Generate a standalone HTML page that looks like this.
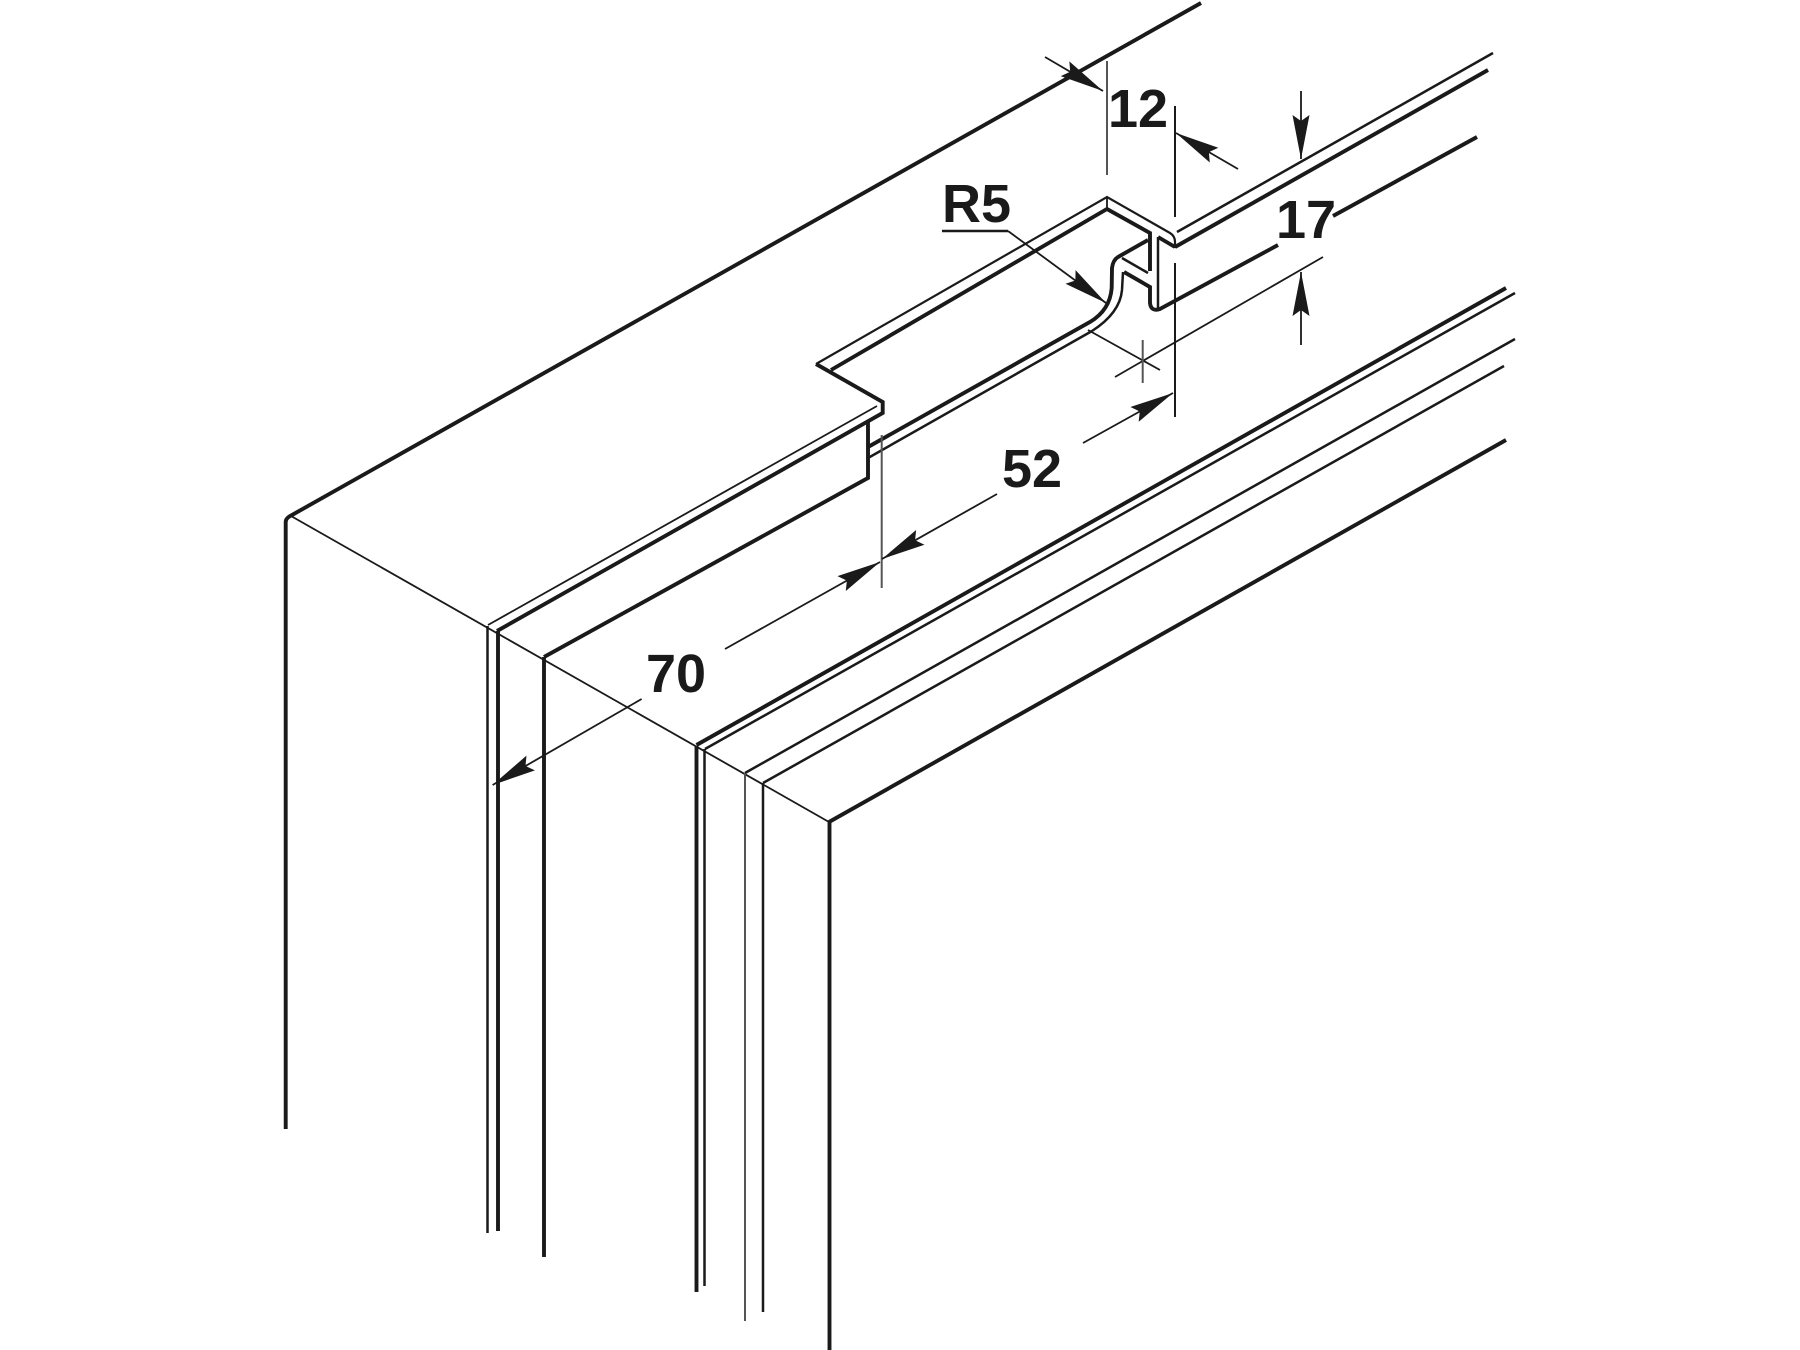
<!DOCTYPE html>
<html><head><meta charset="utf-8"><style>
html,body{margin:0;padding:0;background:#fff}
svg{display:block}
text{font-family:"Liberation Sans",sans-serif;font-weight:700;font-size:54px;fill:#1a1a1a}
.k{stroke:#1a1a1a;fill:none;stroke-width:3.9}
.m{stroke:#1a1a1a;fill:none;stroke-width:2.5}
.t{stroke:#1a1a1a;fill:none;stroke-width:1.8}
.g{stroke:#555;fill:none;stroke-width:2}
</style></head><body>
<svg width="1800" height="1350" viewBox="0 0 1800 1350" xmlns="http://www.w3.org/2000/svg">
<defs><marker id="a" markerUnits="userSpaceOnUse" markerWidth="60" markerHeight="24" refX="50" refY="12" orient="auto"><path d="M50,12 L6,3.5 L12,12 L6,20.5 Z" fill="#1a1a1a"/></marker></defs>
<!-- outer -->
<path class="k" d="M285.7,1129 V522 Q285.7,518 292,515 L1201,3"/>
<path class="t" d="M291,516 L829,822"/>
<!-- verticals -->
<path class="m" d="M487.5,626 V1233"/>
<path class="k" d="M498,631 V1231"/>
<path class="k" d="M544,657 V1257"/>
<path class="k" d="M696.5,746 V1292"/>
<path class="m" d="M704.5,749 V1286"/>
<path class="g" d="M745,773 V1321"/>
<path class="m" d="M763,783 V1312"/>
<path class="k" d="M829.5,821 V1350"/>
<!-- frame diagonals -->
<path class="k" d="M696.5,745 L1506,288"/>
<path class="m" d="M705,749 L1515,293"/>
<path class="m" d="M745,773 L1515,339"/>
<path class="m" d="M763,783 L1504,366"/>
<path class="k" d="M829,822 L1506,440"/>
<!-- left section of rail -->
<path class="t" d="M488,625 L877,406"/>
<path class="k" d="M497,631 L882.7,413 V402 L816,364"/>
<path class="t" d="M816,364 L1107,197 L1170,233 Q1175,236 1175,242 V248" style="stroke-width:2.2"/>
<path class="k" d="M831,370 L1107,209 L1150,233 V271"/>
<path class="k" d="M868,421 V478 L544,657"/>
<path class="t" d="M1107,197 V209"/>
<!-- groove -->
<path class="k" d="M868,447 L1090,322 Q1110,310 1111.7,288 L1112,268 Q1113,260 1118,257 L1148,240"/>
<path class="m" d="M868,458 L1092,331 Q1120,313 1122,290 L1123,272"/>
<path class="k" d="M1124,272 L1150,287 V303 Q1151,312 1160,309 L1278,245"/>
<path class="m" d="M1122,258 L1148,273"/>
<path class="k" d="M1158,237 L1175,247"/>
<path class="m" d="M1158,237 V308"/>
<path class="k" d="M1175,247 L1488,70"/>
<path class="m" d="M1177,232 L1493,53"/>
<path class="k" d="M1333,216 L1477,137"/>
<!-- dimension 12 -->
<path class="g" d="M1107,61 V175"/>
<path class="t" d="M1175,106 V217 M1175,263 V417" style="stroke-width:2"/>
<path class="t" d="M1045,57 L1103,91" marker-end="url(#a)"/>
<path class="t" d="M1238,169 L1176,133" marker-end="url(#a)"/>
<text x="1108" y="127">12</text>
<!-- dimension 17 -->
<path class="t" d="M1301,91 V159" marker-end="url(#a)"/>
<path class="t" d="M1301,345 V272" marker-end="url(#a)"/>
<path class="t" d="M1115,377 L1323,257"/>
<path class="t" d="M1088,330 L1160,370"/>
<path class="g" d="M1142.7,340 V383"/>
<text x="1276" y="238">17</text>
<!-- R5 -->
<path class="m" d="M942,231 H1008"/>
<path class="t" d="M1008,231 L1106,303" marker-end="url(#a)"/>
<text x="942" y="222">R5</text>
<!-- dimension 52 -->
<path class="g" d="M881.7,435 V588"/>
<path class="t" d="M1083,443 L1173,393" marker-end="url(#a)"/>
<path class="t" d="M997,494 L882,559" marker-end="url(#a)"/>
<text x="1002" y="487">52</text>
<!-- dimension 70 -->
<path class="t" d="M725,649 L880,562" marker-end="url(#a)"/>
<path class="t" d="M641.6,699 L492.6,785" marker-end="url(#a)"/>
<text x="646" y="692">70</text>
</svg>
</body></html>
